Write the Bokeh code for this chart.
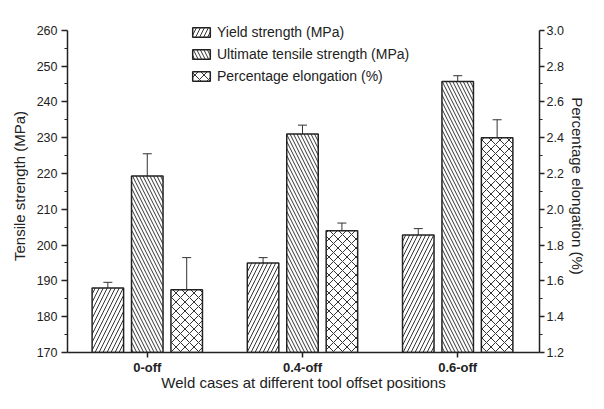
from bokeh.plotting import figure
from bokeh.models import (Range1d, LinearAxis, FixedTicker, Whisker, TeeHead,
                          ColumnDataSource, Legend, LegendItem)
from bokeh.embed import file_html
from bokeh.resources import INLINE

# ---- data ----
cases = ["0-off", "0.4-off", "0.6-off"]
yield_strength = [188.0, 195.0, 202.8]
yield_err = [1.6, 1.5, 1.8]
uts = [219.3, 231.0, 245.7]
uts_err = [6.2, 2.5, 1.6]
elongation = [1.55, 1.88, 2.40]
elong_err = [0.18, 0.043, 0.10]
left_ticks = [170, 180, 190, 200, 210, 220, 230, 240, 250, 260]
right_ticks = [1.2, 1.4, 1.6, 1.8, 2.0, 2.2, 2.4, 2.6, 2.8, 3.0]

FONT = "Liberation Sans"
INK = "#222222"
OFF = 0.254
BW = 0.203
W, H = 588, 393
X0, X1 = -0.514, 2.527
Y0, Y1 = 170, 263
R0 = 1.2
RSCALE = (3.0 - 1.2) / (260 - 170)

idx = list(range(len(cases)))

p = figure(width=W, height=H, output_backend="svg", toolbar_location=None,
           x_range=Range1d(X0, X1), y_range=Range1d(Y0, Y1),
           min_border_left=67, min_border_right=46, min_border_top=19,
           min_border_bottom=36)
p.extra_y_ranges = {"right": Range1d(R0, R0 + (Y1 - Y0) * RSCALE)}
p.outline_line_color = None
p.xgrid.visible = False
p.ygrid.visible = False
p.background_fill_color = "white"
p.border_fill_color = "white"

def mk(vals, errs, off):
    xs = [i + off for i in idx]
    return ColumnDataSource(dict(x=xs, top=vals,
                                 upper=[v + e for v, e in zip(vals, errs)],
                                 lower=[v - e for v, e in zip(vals, errs)]))

s_y = mk(yield_strength, yield_err, -OFF)
s_u = mk(uts, uts_err, 0.0)
s_e = mk(elongation, elong_err, OFF)

common = dict(width=BW, fill_color="white", line_color=INK, line_width=1.5,
              hatch_color="#333333", hatch_weight=1)
r_y = p.vbar(x="x", top="top", bottom=170, source=s_y, hatch_pattern="/",
             hatch_scale=8, **common)
r_u = p.vbar(x="x", top="top", bottom=170, source=s_u, hatch_pattern="\\",
             hatch_scale=7, **common)
r_e = p.vbar(x="x", top="top", bottom=1.2, source=s_e, hatch_pattern="x",
             hatch_scale=9, y_range_name="right", **common)

for src, rn in ((s_y, "default"), (s_u, "default"), (s_e, "right")):
    w = Whisker(source=src, base="x", upper="upper", lower="lower",
                line_color="#333333", line_width=1, y_range_name=rn,
                upper_head=TeeHead(size=9, line_color="#333333", line_width=1),
                lower_head=TeeHead(size=9, line_color="#333333", line_width=1))
    p.add_layout(w)

def style_axis(ax):
    ax.axis_line_color = INK
    ax.axis_line_width = 1.5
    ax.major_tick_line_color = INK
    ax.major_tick_line_width = 1.5
    ax.minor_tick_line_color = INK
    ax.minor_tick_line_width = 1.2
    ax.major_tick_in = 0
    ax.major_tick_out = 6
    ax.minor_tick_in = 0
    ax.minor_tick_out = 3
    ax.major_label_text_font = FONT
    ax.major_label_text_font_size = "12.5px"
    ax.major_label_text_color = INK
    ax.axis_label_text_font = FONT
    ax.axis_label_text_font_size = "15px"
    ax.axis_label_text_font_style = "normal"
    ax.axis_label_text_color = INK
    ax.major_label_standoff = 4

xa = p.xaxis[0]
style_axis(xa)
xa.ticker = FixedTicker(ticks=idx)
xa.major_label_overrides = {i: c for i, c in zip(idx, cases)}
xa.major_label_text_font_style = "bold"
xa.major_label_text_font_size = "13px"
xa.minor_tick_out = 0
xa.major_tick_out = 5
xa.axis_label = "Weld cases at different tool offset positions"
xa.axis_label_standoff = -4
xa.major_label_standoff = 2

ya = p.yaxis[0]
style_axis(ya)
ya.bounds = (170, 260)
ya.ticker = FixedTicker(ticks=left_ticks,
                        minor_ticks=[v + 5 for v in left_ticks[:-1]])
ya.axis_label = "Tensile strength (MPa)"
ya.axis_label_standoff = 6

ra = LinearAxis(y_range_name="right", axis_label="Percentage elongation (%)")
style_axis(ra)
ra.bounds = (1.2, 3.0)
ra.ticker = FixedTicker(ticks=right_ticks,
                        minor_ticks=[round(v + 0.1, 2) for v in right_ticks[:-1]])
ra.major_label_overrides = {v: f"{v:.1f}" for v in right_ticks}
ra.major_tick_out = 5
ra.major_label_standoff = 2
ra.axis_label_standoff = 2
p.add_layout(ra, "right")

legend = Legend(items=[
    LegendItem(label="Yield strength (MPa)", renderers=[r_y]),
    LegendItem(label="Ultimate tensile strength (MPa)", renderers=[r_u]),
    LegendItem(label="Percentage elongation (%)", renderers=[r_e]),
], location=(123, 266))
legend.border_line_color = None
legend.background_fill_alpha = 0
legend.padding = 0
legend.margin = 0
legend.spacing = 2
legend.glyph_width = 22
legend.glyph_height = 12
legend.label_height = 20
legend.label_standoff = 5
legend.label_text_font = FONT
legend.label_text_font_size = "14px"
legend.label_text_color = INK
p.add_layout(legend, "center")

open("out.html", "w").write(file_html(p, INLINE))
